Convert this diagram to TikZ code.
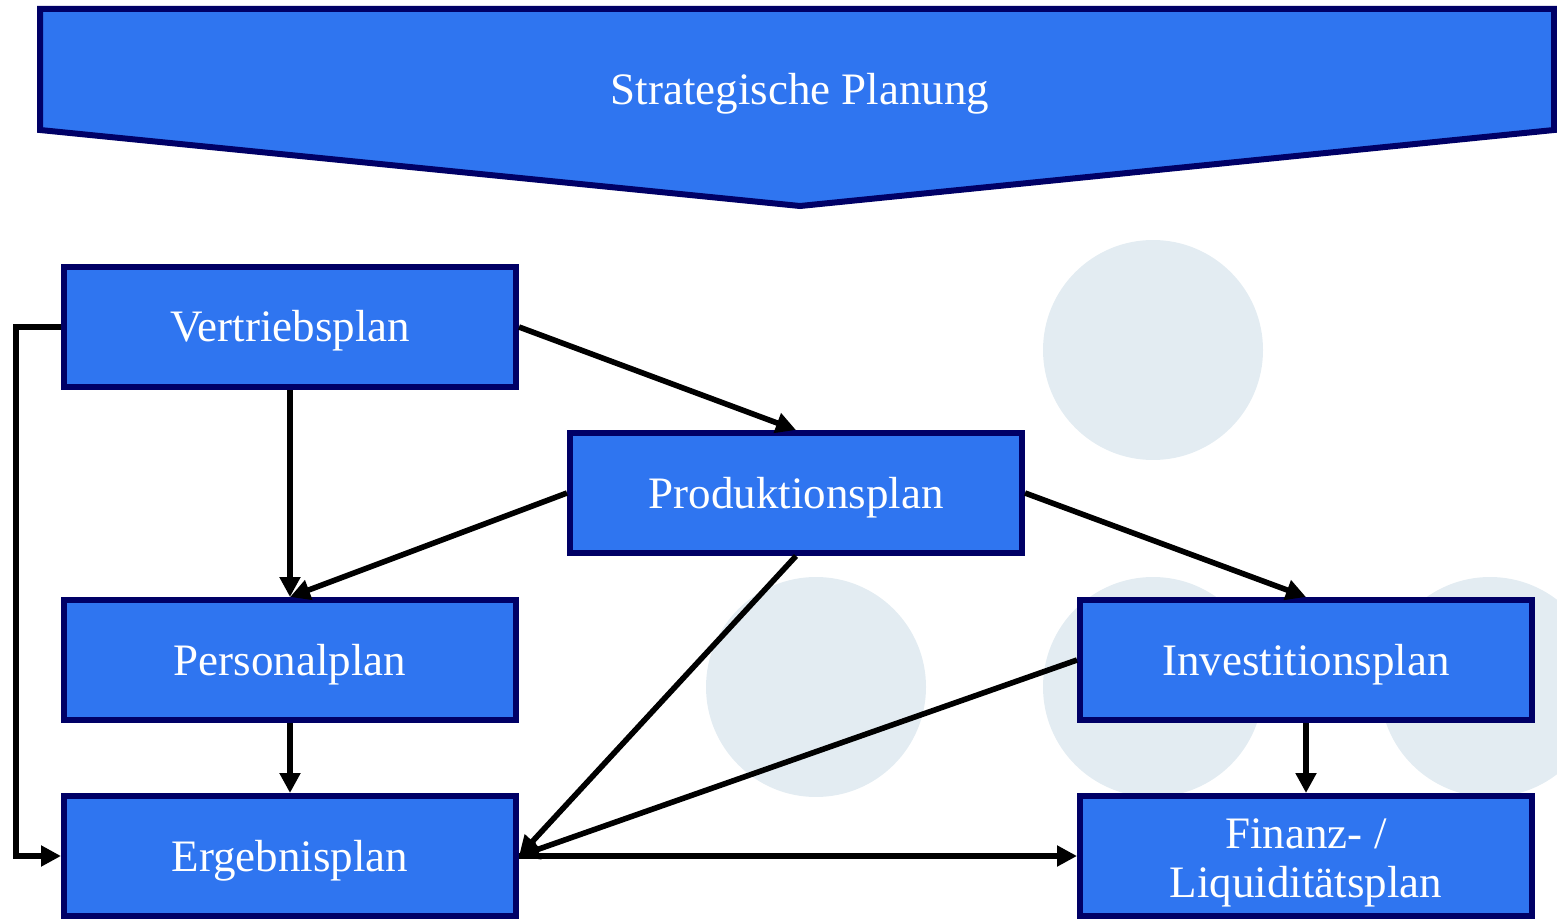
\documentclass[tikz,border=0pt]{standalone}
\usepackage{fontspec}
\setmainfont{Liberation Serif}
\usetikzlibrary{arrows.meta}
\definecolor{planblue}{RGB}{47,117,240}
\definecolor{planborder}{RGB}{0,0,102}
\definecolor{bubble}{RGB}{227,236,242}
\tikzset{
  plan/.style={draw=planborder, fill=planblue, line width=3pt, text=white,
    minimum width=226pt, minimum height=60pt, align=center,
    text height=20pt, text depth=5pt,
    font=\fontsize{22.5}{24.5}\selectfont},
  flow/.style={line width=2.8pt, -{Triangle[length=10pt,width=10pt]}}
}
\begin{document}
\begin{tikzpicture}[x=0.5pt,y=-0.5pt]
            \useasboundingbox (0,0) rectangle (1557,919);
            % background circles
            \fill[bubble] (1153,350) circle[radius=55pt];
            \fill[bubble] (816,687) circle[radius=55pt];
            \fill[bubble] (1153,687) circle[radius=55pt];
            \fill[bubble] (1490,687) circle[radius=55pt];
            % banner
            \filldraw[fill=planblue, draw=planborder, line width=3pt] (40,9) -- (1554,9) -- (1554,130) -- (800,206) -- (40,130) -- cycle;
            \node (strat) at (800,94) [text=white, font=\fontsize{22.5}{24.5}\selectfont]{Strategische Planung};
            % plans
            \node[plan] (vertrieb) at (290,327) {Vertriebsplan};
            \node[plan] (produktion) at (796,493) {Produktionsplan};
            \node[plan] (personal) at (290,660) {Personalplan};
            \node[plan] (invest) at (1306,660) {Investitionsplan};
            \node[plan] (ergebnis) at (290,856) {Ergebnisplan};
            \node[plan, text height=46pt] (finanz) at (1306,856) {Finanz- /\\Liquiditätsplan};
            % connections
            \coordinate (bend) at (16,327);
            \draw[flow] (vertrieb.east) -- (produktion.north);
            \draw[flow] (vertrieb.south) -- (personal.north);
            \draw[flow] (produktion.west) -- (personal.north);
            \draw[flow] (produktion.east) -- (invest.north);
            \draw[flow] (produktion.south) -- (ergebnis.east);
            \draw[flow] (invest.west) -- (ergebnis.east);
            \draw[flow] (personal.south) -- (ergebnis.north);
            \draw[flow] (ergebnis.east) -- (finanz.west);
            \draw[flow] (invest.south) -- (finanz.north);
            \draw[flow] (vertrieb.west) -- (bend) |- (ergebnis.west);
        \end{tikzpicture}
\end{document}
